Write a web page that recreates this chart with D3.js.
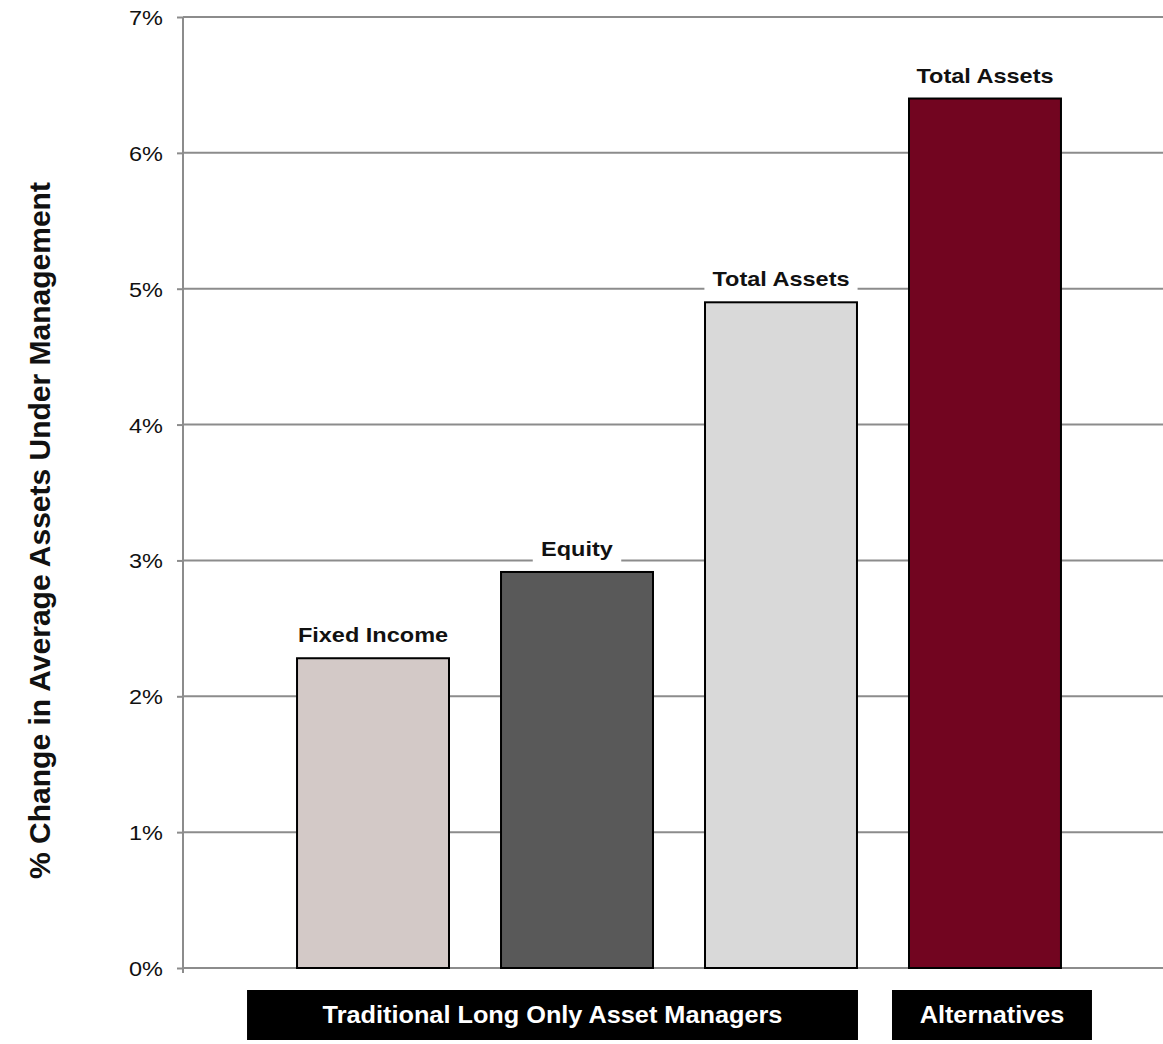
<!DOCTYPE html>
<html><head><meta charset="utf-8">
<script src="https://cdn.jsdelivr.net/npm/d3@7"></script>
<style>body{margin:0;background:#fff;} svg{display:block;font-family:"Liberation Sans",Arial,sans-serif;}</style>
</head><body>
<svg id="c" width="1163" height="1044"></svg>
<script>
const categories = ["Fixed Income", "Equity", "Total Assets (Traditional)", "Total Assets (Alternatives)"];
const barLabels = ["Fixed Income", "Equity", "Total Assets", "Total Assets"];
const values = [2.28, 2.915, 4.90, 6.40];
const colors = ["#d3c9c7", "#595959", "#d9d9d9", "#720520"];
const yTicks = [0, 1, 2, 3, 4, 5, 6, 7];
const yTickLabels = ["0%", "1%", "2%", "3%", "4%", "5%", "6%", "7%"];
const groups = [
  {name: "Traditional Long Only Asset Managers", first: 0, last: 2},
  {name: "Alternatives", first: 3, last: 3}
];
const yTitle = "% Change in Average Assets Under Management";

const svg = d3.select("#c");
const X0 = 183, X1 = 1175, Y0 = 968, Y1 = 17;
const SX = 1.12;

const x = d3.scaleBand().domain(categories).range([X0, X1]).paddingInner(0.255).paddingOuter(0.559);
const y = d3.scaleLinear().domain([0, 7]).range([Y0, Y1]);

// horizontally stretch text around its anchor point
function stretch(sel, f) {
  sel.each(function(){
    const t = d3.select(this);
    const tx = +t.attr("x") || 0, ty = +t.attr("y") || 0;
    t.attr("x", 0).attr("y", 0).attr("transform", `translate(${tx},${ty}) scale(${f},1)`);
  });
}

// gridlines
svg.append("g").selectAll("line").data(yTicks.filter(d => d > 0)).join("line")
  .attr("x1", X0).attr("x2", 1163).attr("y1", d => y(d)).attr("y2", d => y(d))
  .attr("stroke", "#8c8c8c").attr("stroke-width", 2);
svg.append("line").attr("x1", X0).attr("x2", 1163).attr("y1", y(0)).attr("y2", y(0))
  .attr("stroke", "#8c8c8c").attr("stroke-width", 2);

// y axis
const yAxis = d3.axisLeft(y).tickValues(yTicks).tickFormat((d, i) => yTickLabels[i]).tickSize(6).tickPadding(14);
const ga = svg.append("g").attr("transform", `translate(${X0},0)`).call(yAxis);
ga.select(".domain").attr("stroke", "#8c8c8c").attr("stroke-width", 2).attr("d", `M0,${Y1}V${Y0 + 5}`);
ga.selectAll(".tick line").attr("stroke", "#8c8c8c").attr("stroke-width", 2);
ga.selectAll(".tick text").attr("font-size", 21).attr("fill", "#111").attr("font-family", "Liberation Sans, Arial, sans-serif").attr("dy", "0.36em");
ga.selectAll(".tick text").call(stretch, SX);

// bars
svg.append("g").selectAll("rect").data(values).join("rect")
  .attr("x", (d, i) => x(categories[i]))
  .attr("width", x.bandwidth())
  .attr("y", d => y(d))
  .attr("height", d => y(0) - y(d))
  .attr("fill", (d, i) => colors[i])
  .attr("stroke", "#000").attr("stroke-width", 2);

// bar labels with white background
const lg = svg.append("g").selectAll("g").data(values).join("g");
lg.append("rect").attr("class", "bg").attr("fill", "#fff");
lg.append("text")
  .attr("x", (d, i) => x(categories[i]) + x.bandwidth() / 2)
  .attr("y", d => y(d) - 16)
  .attr("text-anchor", "middle").attr("font-size", 21).attr("font-weight", "bold").attr("fill", "#111")
  .text((d, i) => barLabels[i])
  .call(stretch, SX);
lg.each(function(d, i){
  const g = d3.select(this), t = g.select("text").node(), bb = t.getBBox();
  const cx = x(categories[i]) + x.bandwidth() / 2, w = bb.width * SX;
  g.select("rect.bg").attr("x", cx - w / 2 - 8).attr("y", y(d) - 16 + bb.y - 2).attr("width", w + 16).attr("height", bb.height + 4);
});

// group boxes
const gb = svg.append("g").selectAll("g").data(groups).join("g");
const padL = [50, 17], padR = [1, 31];
gb.append("rect")
  .attr("x", (d, i) => x(categories[d.first]) - padL[i])
  .attr("width", (d, i) => x(categories[d.last]) + x.bandwidth() + padR[i] - x(categories[d.first]) + padL[i])
  .attr("y", 990).attr("height", 50).attr("fill", "#000");
gb.append("text")
  .attr("x", (d, i) => (x(categories[d.first]) - padL[i] + x(categories[d.last]) + x.bandwidth() + padR[i]) / 2)
  .attr("y", 1023).attr("text-anchor", "middle").attr("font-size", 23).attr("font-weight", "bold").attr("fill", "#fff")
  .text(d => d.name).call(stretch, 1.1);

// y title
svg.append("text").attr("transform", `translate(50,${(Y0 + Y1) / 2 + 38}) rotate(-90)`)
  .attr("text-anchor", "middle").attr("font-size", 30).attr("font-weight", "bold").attr("fill", "#111")
  .text(yTitle);
</script>
</body></html>
